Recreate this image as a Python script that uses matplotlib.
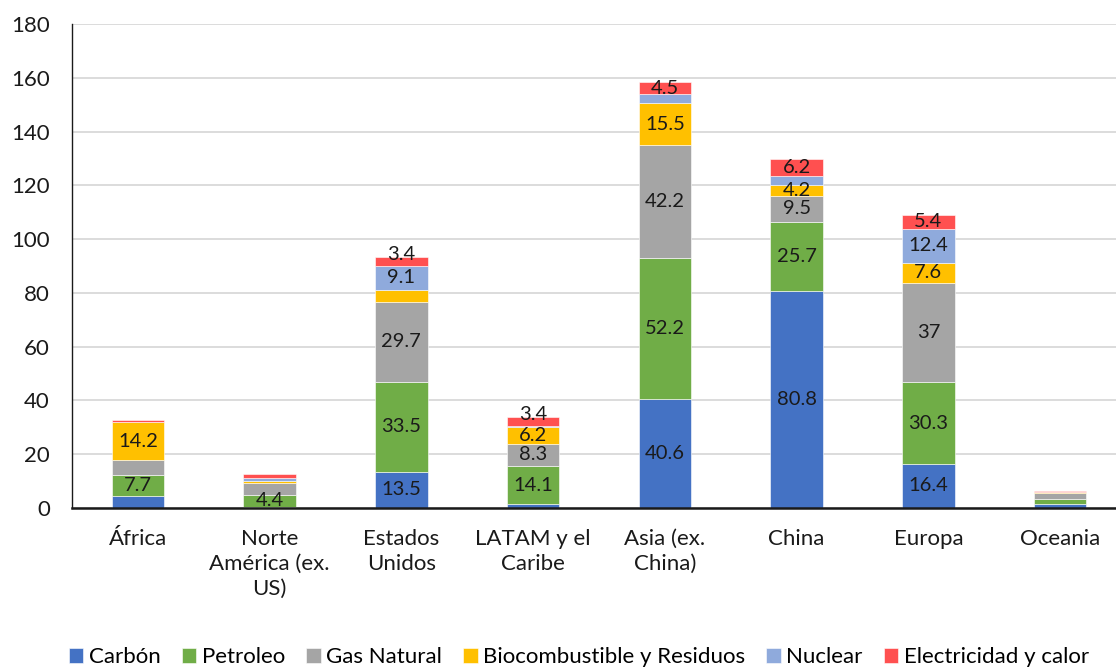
import matplotlib
matplotlib.use('Agg')
import matplotlib.pyplot as plt
import numpy as np

plt.rcParams['font.family'] = ['Lato', 'DejaVu Sans']

regions = ['África', 'Norte\nAmérica (ex.\nUS)', 'Estados\nUnidos', 'LATAM y el\nCaribe',
           'Asia (ex.\nChina)', 'China', 'Europa', 'Oceania']

carbon = [4.5, 0.5, 13.5, 1.5, 40.6, 80.8, 16.4, 1.5]
petroleo = [7.7, 4.4, 33.5, 14.1, 52.2, 25.7, 30.3, 2.0]
gas = [5.5, 4.5, 29.7, 8.3, 42.2, 9.5, 37.0, 2.0]
bio = [14.2, 0.7, 4.3, 6.2, 15.5, 4.2, 7.6, 0.3]
nuclear = [0.0, 1.2, 9.1, 0.5, 3.4, 3.3, 12.4, 0.0]
elec = [0.8, 1.2, 3.4, 3.4, 4.5, 6.2, 5.4, 0.7]

# which segments carry a visible value label
show = {
    'carbon': [False, False, True, False, True, True, True, False],
    'petroleo': [True, True, True, True, True, True, True, False],
    'gas': [False, False, True, True, True, True, True, False],
    'bio': [True, False, False, True, True, True, True, False],
    'nuclear': [False, False, True, False, False, False, True, False],
    'elec': [False, False, True, True, True, True, True, False],
}

series = [
    ('carbon', 'Carbón', carbon, '#4472C4'),
    ('petroleo', 'Petroleo', petroleo, '#70AD47'),
    ('gas', 'Gas Natural', gas, '#A5A5A5'),
    ('bio', 'Biocombustible y Residuos', bio, '#FFC000'),
    ('nuclear', 'Nuclear', nuclear, '#8FAADC'),
    ('elec', 'Electricidad y calor', elec, '#FF5050'),
]

fig = plt.figure(figsize=(11.16, 6.68), dpi=100)
ax = fig.add_axes([72 / 1116, 1 - 508 / 668, 1054 / 1116, 484 / 668])

x = np.arange(len(regions))
bottom = np.zeros(len(regions))
for key, name, vals, color in series:
    vals = np.array(vals)
    ax.bar(x, vals, width=0.4, bottom=bottom, color=color, label=name,
           edgecolor='white', linewidth=0.4, zorder=3)
    for i, v in enumerate(vals):
        if show[key][i]:
            ypos = bottom[i] + v / 2
            # thin top segments: label sits on the top edge of the bar
            if key == 'elec' and v < 4:
                ypos = bottom[i] + v + 0.8
            ax.text(x[i], ypos, '%g' % v, ha='center', va='center',
                    fontsize=14.5, color='#1a1a1a', zorder=4)
    bottom += vals

ax.set_xlim(-0.5, len(regions) - 0.5)
ax.set_ylim(0, 180)
ax.set_yticks(range(0, 181, 20))
ax.yaxis.grid(True, color='#D9D9D9', linewidth=1.3, zorder=0)
ax.set_axisbelow(True)
ax.set_xticks(x)
ax.set_xticklabels(regions, fontsize=16, linespacing=1.3)
ax.tick_params(axis='both', length=0, colors='#1a1a1a')
ax.tick_params(axis='y', labelsize=16, pad=16)
ax.tick_params(axis='x', pad=15)
for s in ['top', 'right']:
    ax.spines[s].set_visible(False)
ax.spines['left'].set_color('#1a1a1a')
ax.spines['left'].set_linewidth(1.0)
ax.spines['bottom'].set_color('#1a1a1a')
ax.spines['bottom'].set_linewidth(1.8)
ax.spines['bottom'].set_zorder(5)

ax.legend(loc='center', bbox_to_anchor=(507 / 1054, (508 - 657) / 484), ncol=6,
          frameon=False, fontsize=16, handlelength=0.65, handleheight=0.65,
          handletextpad=0.25, columnspacing=0.95, borderaxespad=0)

fig.savefig('out.png', dpi=100)
